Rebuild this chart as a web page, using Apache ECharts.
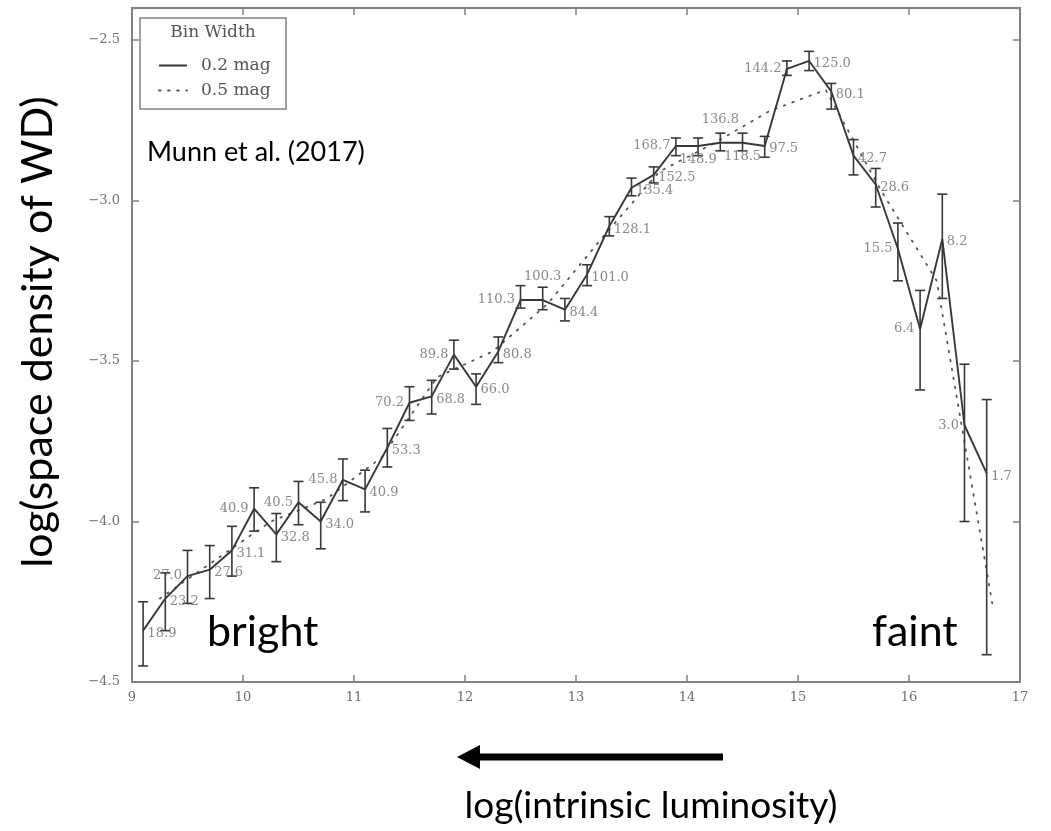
<!DOCTYPE html>
<html>
<head>
<meta charset="utf-8">
<script src="https://cdn.jsdelivr.net/npm/echarts@6/dist/echarts.min.js"></script>
<style>
  html, body { margin: 0; padding: 0; background: #ffffff; }
  #chart { width: 1051px; height: 831px; }
</style>
</head>
<body>
<div id="chart"></div>
<script>
// White dwarf luminosity function, 0.2 mag bins
const binCenters = [9.1, 9.3, 9.5, 9.7, 9.9, 10.1, 10.3, 10.5, 10.7, 10.9, 11.1, 11.3, 11.5,
  11.7, 11.9, 12.1, 12.3, 12.5, 12.7, 12.9, 13.1, 13.3, 13.5, 13.7, 13.9, 14.1, 14.3, 14.5,
  14.7, 14.9, 15.1, 15.3, 15.5, 15.7, 15.9, 16.1, 16.3, 16.5, 16.7];
const logDensity = [-4.34, -4.24, -4.17, -4.15, -4.09, -3.96, -4.04, -3.94, -4.00, -3.87, -3.90,
  -3.77, -3.63, -3.61, -3.48, -3.58, -3.47, -3.31, -3.31, -3.34, -3.23, -3.08, -2.96, -2.92,
  -2.83, -2.83, -2.82, -2.82, -2.83, -2.59, -2.565, -2.66, -2.86, -2.95, -3.15, -3.40, -3.12,
  -3.70, -3.85];
const errUpper = [-4.25, -4.16, -4.09, -4.075, -4.015, -3.895, -3.975, -3.875, -3.94, -3.805,
  -3.84, -3.71, -3.58, -3.56, -3.435, -3.54, -3.425, -3.265, -3.27, -3.305, -3.20, -3.05, -2.93,
  -2.895, -2.805, -2.805, -2.79, -2.79, -2.80, -2.565, -2.535, -2.635, -2.81, -2.90, -3.07,
  -3.28, -2.98, -3.51, -3.62];
const errLower = [-4.45, -4.34, -4.255, -4.24, -4.17, -4.03, -4.125, -4.01, -4.085, -3.935,
  -3.97, -3.83, -3.685, -3.665, -3.525, -3.635, -3.505, -3.335, -3.34, -3.375, -3.265, -3.11,
  -2.985, -2.945, -2.86, -2.86, -2.845, -2.845, -2.865, -2.61, -2.595, -2.715, -2.92, -3.02,
  -3.25, -3.59, -3.305, -4.00, -4.415];
const binCounts = [18.9, 23.2, 27.0, 27.6, 31.1, 40.9, 32.8, 40.5, 34.0, 45.8, 40.9, 53.3, 70.2,
  68.8, 89.8, 66.0, 80.8, 110.3, 100.3, 84.4, 101.0, 128.1, 135.4, 152.5, 168.7, 148.9, 136.8,
  118.5, 97.5, 144.2, 125.0, 80.1, 42.7, 28.6, 15.5, 6.4, 8.2, 3.0, 1.7];

// Same function, 0.5 mag bins
const coarseCenters = [9.25, 9.75, 10.25, 10.75, 11.25, 11.75, 12.25, 12.75, 13.25, 13.75,
  14.25, 14.75, 15.25, 15.75, 16.25, 16.75];
const coarseLogDensity = [-4.24, -4.12, -4.00, -3.93, -3.80, -3.55, -3.47, -3.32, -3.11, -2.91,
  -2.82, -2.72, -2.655, -2.97, -3.25, -4.255];

const xTickValues = [9, 10, 11, 12, 13, 14, 15, 16, 17];
const yTickValues = [-4.5, -4.0, -3.5, -3.0, -2.5];

const seriesNames = ['0.2 mag', '0.5 mag'];

// where each count sits relative to its point
const countSide = ['right', 'right', 'left', 'right', 'right', 'left', 'right', 'left', 'right',
  'left', 'right', 'right', 'left', 'right', 'left', 'right', 'right', 'left', 'top', 'right',
  'right', 'right', 'right', 'right', 'left', 'bottom', 'top', 'bottom', 'right', 'left', 'right',
  'right', 'right', 'right', 'left', 'left', 'right', 'left', 'right'];

const FRAME = '#818181';
const INK = '#383838';
const SERIF = '"DejaVu Serif", serif';
const SANS = 'Lato, "Open Sans", sans-serif';

const sideStyle = {
  right:  { position: 'right',  distance: 4, offset: [0, 3] },
  left:   { position: 'left',   distance: 5, offset: [0, 0] },
  top:    { position: 'top',    distance: 16, offset: [0, 0] },
  bottom: { position: 'bottom', distance: 7, offset: [0, 0] }
};

const fmtMinus = v => (v < 0 ? '\u2212' : '') + Math.abs(v).toFixed(1);

const fineData = binCenters.map((x, i) => [x, logDensity[i]]);
const coarseData = coarseCenters.map((x, i) => [x, coarseLogDensity[i]]);
const errData = binCenters.map((x, i) => [x, errLower[i], errUpper[i]]);
const countData = binCenters.map((x, i) => ({
  value: [x, logDensity[i]],
  label: sideStyle[countSide[i]]
}));

const tickStyle = { show: true, inside: true, length: 7, lineStyle: { color: FRAME, width: 1.5 } };
const lineAxis = { show: true, lineStyle: { color: FRAME, width: 2 } };

const chart = echarts.init(document.getElementById('chart'), null, { renderer: 'canvas' });

chart.setOption({
  backgroundColor: '#ffffff',
  animation: false,
  grid: { left: 132, right: 31, top: 8, bottom: 149, containLabel: false },
  xAxis: [
    {
      type: 'value', min: 9, max: 17, interval: 1, position: 'bottom',
      axisLine: lineAxis, axisTick: tickStyle, splitLine: { show: false },
      axisLabel: {
        margin: 9, color: '#6e6e6e', fontFamily: SERIF, fontSize: 13,
        formatter: v => (xTickValues.includes(v) ? String(v) : '')
      }
    },
    {
      type: 'value', min: 9, max: 17, interval: 1, position: 'top',
      axisLine: lineAxis, axisTick: tickStyle, axisLabel: { show: false }, splitLine: { show: false }
    }
  ],
  yAxis: [
    {
      type: 'value', min: -4.5, max: -2.4, interval: 0.5, position: 'left',
      axisLine: lineAxis, axisTick: tickStyle, splitLine: { show: false },
      axisLabel: {
        margin: 12, color: '#6e6e6e', fontFamily: SERIF, fontSize: 13, showMaxLabel: false,
        formatter: v => (yTickValues.some(t => Math.abs(t - v) < 1e-6) ? fmtMinus(v) : '')
      }
    },
    {
      type: 'value', min: -4.5, max: -2.4, interval: 0.5, position: 'right',
      axisLine: lineAxis, axisTick: tickStyle, axisLabel: { show: false }, splitLine: { show: false }
    }
  ],
  legend: {
    data: seriesNames,
    orient: 'vertical',
    left: 153, top: 52,
    itemWidth: 28, itemHeight: 14, itemGap: 8,
    selectedMode: false,
    itemStyle: { opacity: 0 },
    textStyle: { fontFamily: SERIF, fontSize: 17, color: '#555555', padding: [0, 0, 0, 9] }
  },
  series: [
    {
      name: seriesNames[0], type: 'line', data: fineData,
      symbol: 'none', z: 3,
      lineStyle: { color: INK, width: 1.9 },
      itemStyle: { color: INK }
    },
    {
      name: seriesNames[1], type: 'line', data: coarseData,
      symbol: 'none', z: 2,
      lineStyle: { color: '#555555', width: 1.8, type: [1.6, 7.5], cap: 'round' },
      itemStyle: { color: '#555555' }
    },
    {
      name: 'errors', type: 'custom', data: errData, z: 4,
      renderItem: (params, api) => {
        const x = api.value(0);
        const pLo = api.coord([x, api.value(1)]);
        const pHi = api.coord([x, api.value(2)]);
        const cap = 5;
        const st = { stroke: INK, lineWidth: 1.6 };
        return {
          type: 'group',
          children: [
            { type: 'line', shape: { x1: pLo[0], y1: pLo[1], x2: pHi[0], y2: pHi[1] }, style: st },
            { type: 'line', shape: { x1: pLo[0] - cap, y1: pLo[1], x2: pLo[0] + cap, y2: pLo[1] }, style: st },
            { type: 'line', shape: { x1: pHi[0] - cap, y1: pHi[1], x2: pHi[0] + cap, y2: pHi[1] }, style: st }
          ]
        };
      }
    },
    {
      name: 'counts', type: 'scatter', data: countData, z: 5,
      symbolSize: 1, itemStyle: { color: 'rgba(0,0,0,0)' },
      label: {
        show: true, fontFamily: SERIF, fontSize: 13, color: '#6a6a6a',
        formatter: p => binCounts[p.dataIndex].toFixed(1)
      }
    }
  ],
  graphic: [
    // legend frame and heading
    { type: 'rect', shape: { x: 140, y: 18, width: 146, height: 91 },
      style: { fill: 'none', stroke: FRAME, lineWidth: 1.5 }, z: 10 },
    { type: 'text', x: 213, y: 33, z: 10,
      style: { text: 'Bin Width', fontFamily: SERIF, fontSize: 17, fill: '#555555',
               textAlign: 'center', textVerticalAlign: 'middle' } },
    // annotations
    { type: 'text', x: 147, y: 152, z: 10,
      style: { text: 'Munn et al. (2017)', fontFamily: SANS, fontSize: 27, fill: '#000000',
               textAlign: 'left', textVerticalAlign: 'middle' } },
    { type: 'text', x: 207, y: 632, z: 10,
      style: { text: 'bright', fontFamily: SANS, fontSize: 43, fill: '#000000',
               textAlign: 'left', textVerticalAlign: 'middle' } },
    { type: 'text', x: 872, y: 632, z: 10,
      style: { text: 'faint', fontFamily: SANS, fontSize: 43, fill: '#000000',
               textAlign: 'left', textVerticalAlign: 'middle' } },
    // arrow pointing towards brighter stars
    { type: 'polygon', z: 10,
      shape: { points: [[723, 753.5], [480, 753.5], [480, 745], [457, 757], [480, 769], [480, 760.5], [723, 760.5]] },
      style: { fill: '#000000' } },
    { type: 'text', x: 651, y: 806, z: 10,
      style: { text: 'log(intrinsic luminosity)', fontFamily: SANS, fontSize: 37, fill: '#000000',
               textAlign: 'center', textVerticalAlign: 'middle' } },
    { type: 'text', x: 38, y: 332, rotation: Math.PI / 2, z: 10,
      style: { text: 'log(space density of WD)', fontFamily: SANS, fontSize: 43, fill: '#000000',
               textAlign: 'center', textVerticalAlign: 'middle' } }
  ]
});
</script>
</body>
</html>
